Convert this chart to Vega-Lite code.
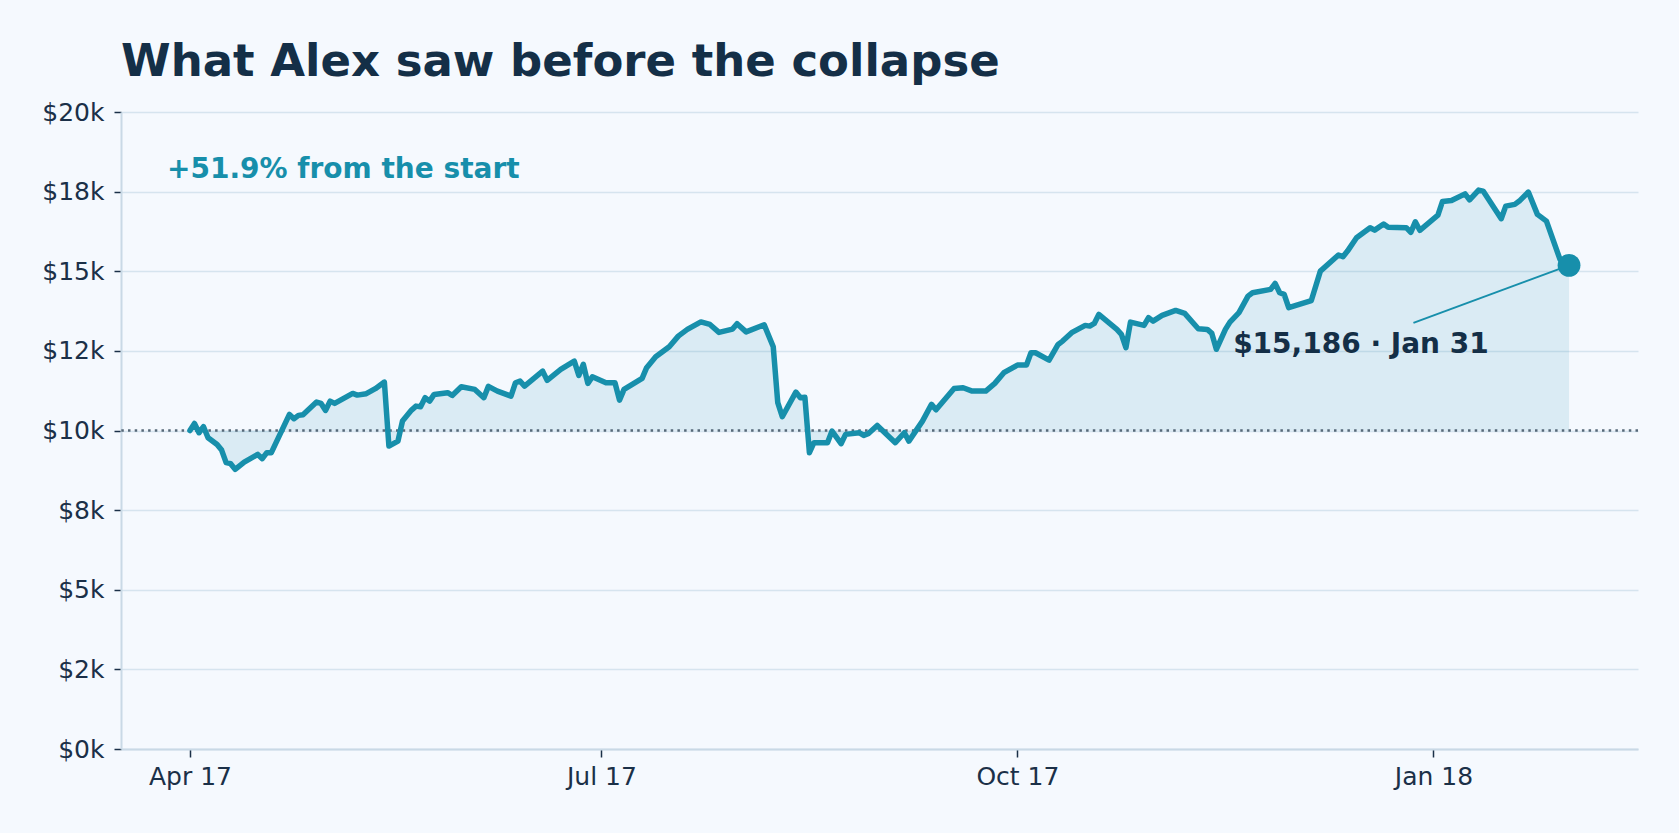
{
  "$schema": "https://vega.github.io/schema/vega-lite/v6.json",
  "autosize": {"type": "none"},
  "padding": {"left": 121, "top": 112, "right": 41, "bottom": 84},
  "width": 1517,
  "height": 637,
  "background": "#f5f9fe",
  "title": {
    "text": "What Alex saw before the collapse",
    "anchor": "start",
    "frame": "group",
    "font": "DejaVu Sans",
    "fontSize": 45,
    "fontWeight": "bold",
    "color": "#142f47",
    "baseline": "alphabetic",
    "offset": 22,
    "dy": 43
  },
  "datasets": {
    "series": [
      {"date": "2017-04-01", "value": 10000},
      {"date": "2017-04-02", "value": 10220},
      {"date": "2017-04-03", "value": 9930},
      {"date": "2017-04-04", "value": 10120},
      {"date": "2017-04-05", "value": 9774},
      {"date": "2017-04-07", "value": 9563},
      {"date": "2017-04-08", "value": 9385},
      {"date": "2017-04-09", "value": 8990},
      {"date": "2017-04-10", "value": 8958},
      {"date": "2017-04-11", "value": 8779},
      {"date": "2017-04-13", "value": 9008},
      {"date": "2017-04-16", "value": 9250},
      {"date": "2017-04-17", "value": 9115},
      {"date": "2017-04-18", "value": 9303},
      {"date": "2017-04-19", "value": 9303},
      {"date": "2017-04-23", "value": 10505},
      {"date": "2017-04-24", "value": 10370},
      {"date": "2017-04-25", "value": 10474},
      {"date": "2017-04-26", "value": 10496},
      {"date": "2017-04-29", "value": 10892},
      {"date": "2017-04-30", "value": 10851},
      {"date": "2017-05-01", "value": 10631},
      {"date": "2017-05-02", "value": 10923},
      {"date": "2017-05-03", "value": 10851},
      {"date": "2017-05-07", "value": 11165},
      {"date": "2017-05-08", "value": 11111},
      {"date": "2017-05-10", "value": 11155},
      {"date": "2017-05-12", "value": 11312},
      {"date": "2017-05-14", "value": 11520},
      {"date": "2017-05-15", "value": 9510},
      {"date": "2017-05-17", "value": 9667},
      {"date": "2017-05-18", "value": 10295},
      {"date": "2017-05-20", "value": 10640},
      {"date": "2017-05-21", "value": 10766},
      {"date": "2017-05-22", "value": 10747},
      {"date": "2017-05-23", "value": 11030},
      {"date": "2017-05-24", "value": 10923},
      {"date": "2017-05-25", "value": 11133},
      {"date": "2017-05-28", "value": 11187},
      {"date": "2017-05-29", "value": 11102},
      {"date": "2017-05-31", "value": 11375},
      {"date": "2017-06-03", "value": 11290},
      {"date": "2017-06-05", "value": 11030},
      {"date": "2017-06-06", "value": 11385},
      {"date": "2017-06-08", "value": 11237},
      {"date": "2017-06-11", "value": 11080},
      {"date": "2017-06-12", "value": 11500},
      {"date": "2017-06-13", "value": 11551},
      {"date": "2017-06-14", "value": 11394},
      {"date": "2017-06-18", "value": 11865},
      {"date": "2017-06-19", "value": 11573},
      {"date": "2017-06-22", "value": 11918},
      {"date": "2017-06-25", "value": 12179},
      {"date": "2017-06-26", "value": 11730},
      {"date": "2017-06-27", "value": 12075},
      {"date": "2017-06-28", "value": 11479},
      {"date": "2017-06-29", "value": 11689},
      {"date": "2017-07-02", "value": 11500},
      {"date": "2017-07-04", "value": 11500},
      {"date": "2017-07-05", "value": 10955},
      {"date": "2017-07-06", "value": 11290},
      {"date": "2017-07-10", "value": 11636},
      {"date": "2017-07-11", "value": 11972},
      {"date": "2017-07-13", "value": 12317},
      {"date": "2017-07-16", "value": 12631},
      {"date": "2017-07-18", "value": 12964},
      {"date": "2017-07-20", "value": 13174},
      {"date": "2017-07-23", "value": 13410},
      {"date": "2017-07-25", "value": 13330},
      {"date": "2017-07-27", "value": 13080},
      {"date": "2017-07-30", "value": 13185},
      {"date": "2017-07-31", "value": 13354},
      {"date": "2017-08-02", "value": 13096},
      {"date": "2017-08-06", "value": 13320},
      {"date": "2017-08-08", "value": 12631},
      {"date": "2017-08-09", "value": 10873},
      {"date": "2017-08-10", "value": 10433},
      {"date": "2017-08-13", "value": 11206},
      {"date": "2017-08-14", "value": 11030},
      {"date": "2017-08-15", "value": 11045},
      {"date": "2017-08-16", "value": 9303},
      {"date": "2017-08-17", "value": 9617},
      {"date": "2017-08-20", "value": 9617},
      {"date": "2017-08-21", "value": 9981},
      {"date": "2017-08-23", "value": 9586},
      {"date": "2017-08-24", "value": 9878},
      {"date": "2017-08-27", "value": 9930},
      {"date": "2017-08-28", "value": 9846},
      {"date": "2017-08-29", "value": 9900},
      {"date": "2017-08-31", "value": 10160},
      {"date": "2017-09-04", "value": 9617},
      {"date": "2017-09-06", "value": 9930},
      {"date": "2017-09-07", "value": 9667},
      {"date": "2017-09-10", "value": 10295},
      {"date": "2017-09-12", "value": 10820},
      {"date": "2017-09-13", "value": 10650},
      {"date": "2017-09-17", "value": 11316},
      {"date": "2017-09-19", "value": 11343},
      {"date": "2017-09-21", "value": 11237},
      {"date": "2017-09-24", "value": 11237},
      {"date": "2017-09-26", "value": 11479},
      {"date": "2017-09-28", "value": 11815},
      {"date": "2017-10-01", "value": 12053},
      {"date": "2017-10-03", "value": 12053},
      {"date": "2017-10-04", "value": 12442},
      {"date": "2017-10-05", "value": 12442},
      {"date": "2017-10-08", "value": 12210},
      {"date": "2017-10-10", "value": 12703},
      {"date": "2017-10-11", "value": 12807},
      {"date": "2017-10-13", "value": 13071},
      {"date": "2017-10-16", "value": 13300},
      {"date": "2017-10-17", "value": 13278},
      {"date": "2017-10-18", "value": 13362},
      {"date": "2017-10-19", "value": 13645},
      {"date": "2017-10-23", "value": 13174},
      {"date": "2017-10-24", "value": 13017},
      {"date": "2017-10-25", "value": 12600},
      {"date": "2017-10-26", "value": 13403},
      {"date": "2017-10-29", "value": 13300},
      {"date": "2017-10-30", "value": 13542},
      {"date": "2017-10-31", "value": 13435},
      {"date": "2017-11-02", "value": 13614},
      {"date": "2017-11-05", "value": 13771},
      {"date": "2017-11-07", "value": 13677},
      {"date": "2017-11-10", "value": 13196},
      {"date": "2017-11-12", "value": 13174},
      {"date": "2017-11-13", "value": 13049},
      {"date": "2017-11-14", "value": 12550},
      {"date": "2017-11-16", "value": 13174},
      {"date": "2017-11-17", "value": 13403},
      {"date": "2017-11-19", "value": 13699},
      {"date": "2017-11-21", "value": 14220},
      {"date": "2017-11-22", "value": 14326},
      {"date": "2017-11-26", "value": 14430},
      {"date": "2017-11-27", "value": 14618},
      {"date": "2017-11-28", "value": 14326},
      {"date": "2017-11-29", "value": 14273},
      {"date": "2017-11-30", "value": 13856},
      {"date": "2017-12-05", "value": 14080},
      {"date": "2017-12-07", "value": 15005},
      {"date": "2017-12-11", "value": 15510},
      {"date": "2017-12-12", "value": 15457},
      {"date": "2017-12-13", "value": 15633},
      {"date": "2017-12-15", "value": 16053},
      {"date": "2017-12-18", "value": 16367},
      {"date": "2017-12-19", "value": 16292},
      {"date": "2017-12-21", "value": 16482},
      {"date": "2017-12-22", "value": 16383},
      {"date": "2017-12-26", "value": 16367},
      {"date": "2017-12-27", "value": 16220},
      {"date": "2017-12-28", "value": 16550},
      {"date": "2017-12-29", "value": 16286},
      {"date": "2018-01-02", "value": 16760},
      {"date": "2018-01-03", "value": 17190},
      {"date": "2018-01-05", "value": 17220},
      {"date": "2018-01-08", "value": 17430},
      {"date": "2018-01-09", "value": 17240},
      {"date": "2018-01-11", "value": 17548},
      {"date": "2018-01-12", "value": 17517},
      {"date": "2018-01-16", "value": 16650},
      {"date": "2018-01-17", "value": 17046},
      {"date": "2018-01-19", "value": 17100},
      {"date": "2018-01-20", "value": 17203},
      {"date": "2018-01-22", "value": 17486},
      {"date": "2018-01-24", "value": 16785},
      {"date": "2018-01-26", "value": 16575},
      {"date": "2018-01-29", "value": 15372},
      {"date": "2018-01-31", "value": 15186}
    ],
    "baseline": [{"value": 10000}],
    "endpoint": [{"date": "2018-01-31", "value": 15186}],
    "pointer": [{"date": "2017-12-27T14:00:00Z", "value": 13381, "date2": "2018-01-31", "value2": 15186}],
    "gain": [{"label": "+51.9% from the start", "date": "2017-03-26T22:00:00Z", "value": 17940}],
    "callout": [{"label": "$15,186 · Jan 31", "date": "2017-11-17T17:00:00Z", "value": 12445}]
  },
  "layer": [
    {
      "data": {"name": "series"},
      "mark": {"type": "area", "color": "#178fab", "opacity": 0.12},
      "encoding": {
        "x": {
          "field": "date",
          "type": "temporal",
          "title": null,
          "scale": {"type": "utc", "domain": [1489687200000, 1518674400000], "nice": false},
          "axis": {
            "values": [1491004800000, 1498867200000, 1506816000000, 1514764800000],
            "labelExpr": "utcFormat(datum.value, '%b %y')"
          }
        },
        "y": {
          "field": "value",
          "type": "quantitative",
          "title": null,
          "scale": {"domain": [0, 20000], "nice": false, "zero": true},
          "axis": {
            "values": [0, 2500, 5000, 7500, 10000, 12500, 15000, 17500, 20000],
            "labelExpr": "'$' + (abs(datum.value/1000 - floor(datum.value/1000) - 0.5) < 0.001 ? 2*round(datum.value/2000) : round(datum.value/1000)) + 'k'"
          }
        },
        "y2": {"datum": 10000}
      }
    },
    {
      "data": {"name": "baseline"},
      "mark": {"type": "rule", "color": "#566878", "strokeWidth": 2.5, "strokeDash": [2.5, 4.2]},
      "encoding": {
        "y": {"field": "value", "type": "quantitative", "title": null}
      }
    },
    {
      "data": {"name": "series"},
      "mark": {"type": "line", "color": "#178fab", "strokeWidth": 5.5, "strokeJoin": "round", "strokeCap": "round"},
      "encoding": {
        "x": {"field": "date", "type": "temporal", "title": null},
        "y": {"field": "value", "type": "quantitative", "title": null}
      }
    },
    {
      "data": {"name": "pointer"},
      "mark": {"type": "rule", "color": "#178fab", "strokeWidth": 2},
      "encoding": {
        "x": {"field": "date", "type": "temporal", "title": null},
        "y": {"field": "value", "type": "quantitative", "title": null},
        "x2": {"field": "date2"},
        "y2": {"field": "value2"}
      }
    },
    {
      "data": {"name": "endpoint"},
      "mark": {"type": "point", "filled": true, "size": 520, "color": "#178fab", "opacity": 1},
      "encoding": {
        "x": {"field": "date", "type": "temporal", "title": null},
        "y": {"field": "value", "type": "quantitative", "title": null}
      }
    },
    {
      "data": {"name": "gain"},
      "mark": {"type": "text", "align": "left", "baseline": "alphabetic", "font": "DejaVu Sans", "fontSize": 28, "fontWeight": "bold", "color": "#178fab"},
      "encoding": {
        "x": {"field": "date", "type": "temporal", "title": null},
        "y": {"field": "value", "type": "quantitative", "title": null},
        "text": {"field": "label"}
      }
    },
    {
      "data": {"name": "callout"},
      "mark": {"type": "text", "align": "left", "baseline": "alphabetic", "font": "DejaVu Sans", "fontSize": 28, "fontWeight": "bold", "color": "#142f47"},
      "encoding": {
        "x": {"field": "date", "type": "temporal", "title": null},
        "y": {"field": "value", "type": "quantitative", "title": null},
        "text": {"field": "label"}
      }
    }
  ],
  "config": {
    "view": {"stroke": null},
    "font": "DejaVu Sans",
    "axis": {
      "labelFont": "DejaVu Sans",
      "labelFontSize": 25,
      "labelColor": "#1b3048",
      "tickColor": "#1b3048",
      "tickWidth": 1.5,
      "domainColor": "#c9d9e6",
      "domainWidth": 2,
      "gridColor": "#d6e4ef",
      "gridWidth": 1.5
    },
    "axisX": {"grid": false, "tickSize": 8, "labelPadding": 7},
    "axisY": {"grid": true, "tickSize": 7, "labelPadding": 10}
  }
}
